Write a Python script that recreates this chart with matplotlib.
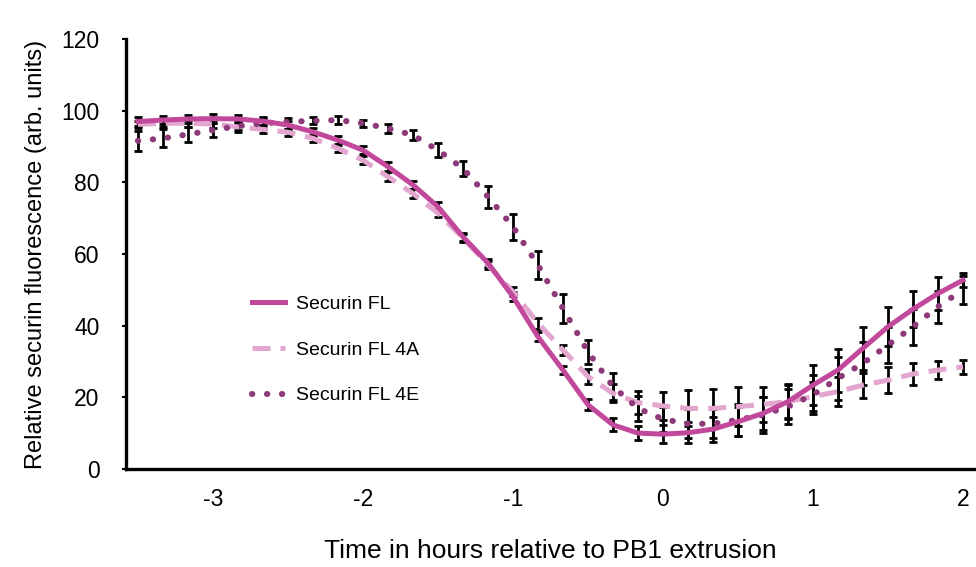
import matplotlib
matplotlib.use('Agg')
import matplotlib.pyplot as plt
from matplotlib.ticker import FuncFormatter
import numpy as np

plt.rcParams['font.family'] = ['Liberation Sans', 'DejaVu Sans']

# time points, hours relative to PB1 extrusion (every 10 min)
hours = np.arange(34) / 6.0 - 3.5

fl = [97.0, 97.4, 97.7, 97.8, 97.7, 97.1, 96.0, 94.1, 91.8, 89.0, 84.4, 79.3,
      73.2, 64.8, 57.5, 48.1, 36.9, 27.6, 17.9, 12.3, 10.0, 9.7, 10.1, 11.1,
      13.2, 15.5, 18.8, 23.4, 27.6, 33.7, 39.7, 44.6, 49.0, 52.7]
fl_err = [1.2, 1.2, 1.2, 1.2, 1.2, 1.2, 1.2, 1.2, 1.2, 1.2, 1.2, 1.2,
          1.2, 1.2, 1.2, 1.2, 1.2, 1.2, 1.5, 1.8, 2.0, 2.5, 3.0, 3.5,
          4.0, 4.5, 5.0, 5.5, 6.0, 6.0, 5.5, 5.0, 4.5, 2.0]

fl4a = [96.2, 96.5, 96.5, 96.3, 95.5, 94.8, 94.0, 92.3, 89.5, 86.2, 81.6, 76.9,
        71.4, 64.5, 56.9, 49.5, 40.7, 33.2, 25.8, 21.1, 18.5, 17.6, 16.9, 16.9,
        17.4, 18.0, 18.8, 20.2, 21.6, 23.4, 24.8, 26.5, 27.6, 28.5]
fl4a_err = [1.0, 1.0, 1.0, 1.0, 1.0, 1.0, 1.0, 1.0, 1.0, 1.2, 1.2, 1.2,
            1.2, 1.2, 1.2, 1.2, 1.5, 1.5, 2.0, 2.5, 3.2, 4.0, 5.0, 5.5,
            5.5, 5.0, 4.5, 4.0, 4.0, 3.5, 3.6, 3.0, 2.5, 2.0]

fl4e = [91.6, 92.3, 93.4, 94.6, 95.7, 96.5, 96.9, 97.2, 97.4, 96.5, 95.1, 93.2,
        89.0, 83.9, 76.0, 67.6, 56.9, 44.8, 32.7, 23.0, 16.9, 13.9, 12.6, 12.6,
        13.7, 15.1, 17.4, 20.7, 25.3, 29.5, 34.6, 39.7, 45.3, 50.0]
fl4e_err = [2.8, 2.5, 2.2, 2.0, 1.5, 1.5, 1.0, 1.0, 1.0, 1.0, 1.2, 1.5,
            1.9, 2.2, 3.1, 3.6, 4.0, 4.1, 3.3, 3.8, 3.5, 3.5, 4.0, 4.0,
            4.5, 5.0, 5.0, 5.5, 6.0, 6.0, 5.0, 5.0, 4.5, 4.0]

labels = ['Securin FL', 'Securin FL 4A', 'Securin FL 4E']
colors = ['#c2489c', '#e2a6cf', '#8e3a7a']

fig = plt.figure(figsize=(9.76, 5.67), dpi=100)
ax = fig.add_axes([0.129, 0.173, 0.870, 0.758])

ebopt = dict(fmt='none', ecolor='k', elinewidth=2.0, capsize=3, capthick=2.0, zorder=2)
ax.errorbar(hours, fl, yerr=fl_err, **ebopt)
ax.errorbar(hours, fl4a, yerr=fl4a_err, **ebopt)
ax.errorbar(hours, fl4e, yerr=fl4e_err, **ebopt)

l1, = ax.plot(hours, fl, '-', color=colors[0], lw=3.6, zorder=4, solid_joinstyle='round')
l2, = ax.plot(hours, fl4a, color=colors[1], lw=3.6, ls=(0, (3.6, 2.0)), zorder=3)
l3, = ax.plot(hours, fl4e, color=colors[2], lw=4.4, ls=(0, (0.05, 2.4)),
              dash_capstyle='round', zorder=3)

ax.set_xlim(-3.58, 2.08)
ax.set_ylim(0, 120)
ax.set_xticks([-3, -2, -1, 0, 1, 2])
ax.set_yticks(np.arange(0, 121, 20))
ax.xaxis.set_major_formatter(FuncFormatter(lambda v, p: '%d' % v))
ax.tick_params(axis='x', length=0, pad=14, labelsize=16.5)
ax.tick_params(axis='y', direction='out', length=3, width=1.5, pad=16, labelsize=16.5)

for s in ['top', 'right']:
    ax.spines[s].set_visible(False)
for s in ['left', 'bottom']:
    ax.spines[s].set_linewidth(2.4)

ax.set_xlabel('Time in hours relative to PB1 extrusion', fontsize=19, labelpad=20)
ax.set_ylabel('Relative securin fluorescence (arb. units)', fontsize=17, labelpad=10)

ax.legend([l1, l2, l3], labels, loc='upper left', bbox_to_anchor=(0.128, 0.445),
          frameon=False, fontsize=14, handlelength=1.7, handletextpad=0.55,
          labelspacing=1.45)

fig.savefig('out.png', dpi=100)
